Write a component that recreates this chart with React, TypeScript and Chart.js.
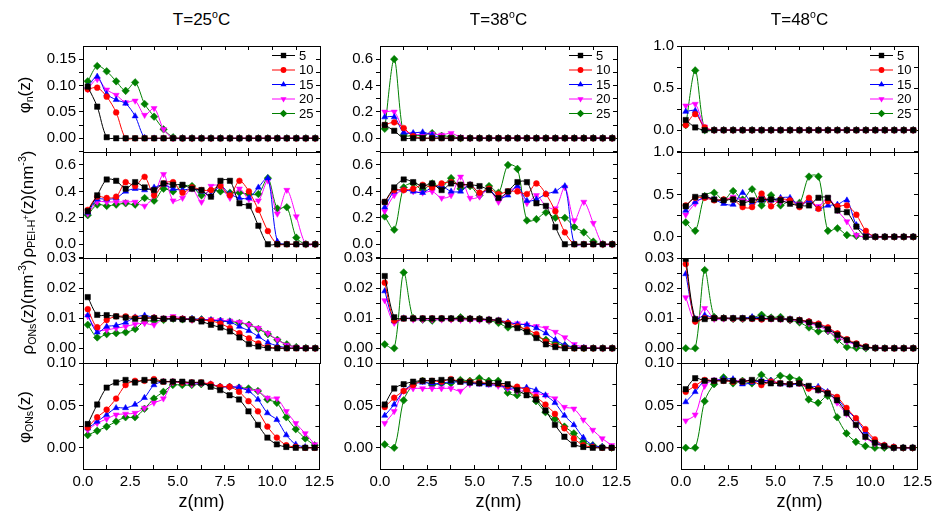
import React, { useEffect, useRef } from 'react';
import { Chart, registerables } from 'chart.js';

Chart.register(...registerables);

// ---------------- data ----------------
const Z = [0.25, 0.75, 1.25, 1.75, 2.25, 2.75, 3.25, 3.75, 4.25, 4.75, 5.25, 5.75, 6.25, 6.75, 7.25, 7.75, 8.25, 8.75, 9.25, 9.75, 10.25, 10.75, 11.25, 11.75, 12.25];
const SERIES_LABELS = ['5', '10', '15', '20', '25'];
const TITLES = ['25', '38', '48'];
const X_TICKS = [0, 2.5, 5, 7.5, 10, 12.5];

const phiN_T25 = [
  [0.098, 0.060, 0.002, 0, 0, 0, 0, 0, 0, 0, 0, 0, 0, 0, 0, 0, 0, 0, 0, 0, 0, 0, 0, 0, 0],
  [0.093, 0.096, 0.079, 0.049, 0, 0, 0, 0, 0, 0, 0, 0, 0, 0, 0, 0, 0, 0, 0, 0, 0, 0, 0, 0, 0],
  [0.098, 0.117, 0.084, 0.073, 0.066, 0.042, 0.001, 0, 0, 0, 0, 0, 0, 0, 0, 0, 0, 0, 0, 0, 0, 0, 0, 0, 0],
  [0.093, 0.112, 0.092, 0.082, 0.068, 0.071, 0.044, 0.057, 0.017, 0, 0, 0, 0, 0, 0, 0, 0, 0, 0, 0, 0, 0, 0, 0, 0],
  [0.108, 0.137, 0.127, 0.108, 0.090, 0.106, 0.065, 0.041, 0.017, 0.002, 0, 0, 0, 0, 0, 0, 0, 0, 0, 0, 0, 0, 0, 0, 0],
];
const rhoPEI_T25 = [
  [0.25, 0.37, 0.49, 0.48, 0.42, 0.47, 0.43, 0.41, 0.46, 0.45, 0.45, 0.42, 0.41, 0.36, 0.48, 0.48, 0.31, 0.29, 0.14, 0, 0, 0, 0, 0, 0],
  [0.26, 0.36, 0.35, 0.36, 0.47, 0.44, 0.51, 0.37, 0.46, 0.47, 0.39, 0.43, 0.41, 0.41, 0.44, 0.37, 0.48, 0.40, 0.26, 0.10, 0, 0, 0, 0, 0],
  [0.24, 0.34, 0.34, 0.35, 0.40, 0.42, 0.41, 0.43, 0.45, 0.42, 0.41, 0.42, 0.40, 0.37, 0.44, 0.38, 0.35, 0.35, 0.43, 0.50, 0.02, 0, 0, 0, 0],
  [0.23, 0.32, 0.32, 0.32, 0.32, 0.32, 0.29, 0.37, 0.53, 0.33, 0.35, 0.42, 0.32, 0.44, 0.44, 0.35, 0.42, 0.34, 0.33, 0.48, 0.23, 0.41, 0.21, 0, 0],
  [0.22, 0.30, 0.29, 0.30, 0.31, 0.30, 0.35, 0.33, 0.42, 0.40, 0.44, 0.44, 0.37, 0.41, 0.40, 0.39, 0.39, 0.38, 0.38, 0.50, 0.27, 0.28, 0.05, 0, 0],
];
const rhoONs_T25 = [
  [0.0170, 0.0111, 0.0110, 0.0106, 0.0102, 0.0098, 0.0100, 0.0100, 0.0098, 0.0098, 0.0096, 0.0096, 0.0089, 0.0078, 0.0069, 0.0056, 0.0036, 0.0014, 0.0006, 0.0001, 0, 0, 0, 0, 0],
  [0.0130, 0.0070, 0.0094, 0.0106, 0.0106, 0.0102, 0.0100, 0.0102, 0.0098, 0.0100, 0.0098, 0.0096, 0.0094, 0.0091, 0.0082, 0.0067, 0.0050, 0.0033, 0.0016, 0.0004, 0.0001, 0, 0, 0, 0],
  [0.0110, 0.0053, 0.0072, 0.0076, 0.0086, 0.0103, 0.0109, 0.0102, 0.0098, 0.0098, 0.0098, 0.0098, 0.0096, 0.0093, 0.0091, 0.0087, 0.0072, 0.0058, 0.0039, 0.0019, 0.0008, 0.0002, 0, 0, 0],
  [0.0106, 0.0061, 0.0061, 0.0067, 0.0072, 0.0080, 0.0083, 0.0078, 0.0100, 0.0106, 0.0100, 0.0094, 0.0094, 0.0096, 0.0093, 0.0091, 0.0087, 0.0078, 0.0067, 0.0050, 0.0028, 0.0011, 0.0004, 0.0001, 0],
  [0.0078, 0.0036, 0.0047, 0.0050, 0.0053, 0.0064, 0.0089, 0.0091, 0.0094, 0.0098, 0.0096, 0.0096, 0.0096, 0.0093, 0.0091, 0.0089, 0.0084, 0.0078, 0.0064, 0.0047, 0.0028, 0.0013, 0.0004, 0.0001, 0],
];
const phiONs_T25 = [
  [0.028, 0.051, 0.071, 0.077, 0.080, 0.077, 0.080, 0.079, 0.078, 0.078, 0.078, 0.077, 0.077, 0.072, 0.068, 0.062, 0.057, 0.043, 0.027, 0.012, 0.004, 0.001, 0, 0, 0],
  [0.024, 0.036, 0.045, 0.058, 0.074, 0.079, 0.079, 0.081, 0.078, 0.078, 0.077, 0.077, 0.077, 0.075, 0.072, 0.072, 0.066, 0.055, 0.043, 0.025, 0.012, 0.003, 0.001, 0, 0],
  [0.023, 0.031, 0.039, 0.047, 0.047, 0.051, 0.059, 0.074, 0.078, 0.078, 0.077, 0.077, 0.076, 0.075, 0.072, 0.072, 0.071, 0.067, 0.057, 0.041, 0.033, 0.015, 0.004, 0.001, 0],
  [0.021, 0.029, 0.034, 0.039, 0.040, 0.041, 0.047, 0.053, 0.058, 0.077, 0.077, 0.075, 0.076, 0.075, 0.072, 0.072, 0.071, 0.068, 0.067, 0.059, 0.058, 0.043, 0.029, 0.017, 0.004],
  [0.015, 0.020, 0.025, 0.031, 0.036, 0.036, 0.046, 0.058, 0.066, 0.074, 0.074, 0.074, 0.075, 0.074, 0.072, 0.072, 0.071, 0.070, 0.067, 0.057, 0.053, 0.036, 0.022, 0.011, 0.003],
];

const phiN_T38 = [
  [0.100, 0.056, 0, 0, 0, 0, 0, 0, 0, 0, 0, 0, 0, 0, 0, 0, 0, 0, 0, 0, 0, 0, 0, 0, 0],
  [0.100, 0.120, 0.077, 0.015, 0, 0, 0, 0, 0, 0, 0, 0, 0, 0, 0, 0, 0, 0, 0, 0, 0, 0, 0, 0, 0],
  [0.160, 0.160, 0.043, 0.040, 0.045, 0.025, 0, 0, 0, 0, 0, 0, 0, 0, 0, 0, 0, 0, 0, 0, 0, 0, 0, 0, 0],
  [0.200, 0.200, 0.064, 0.030, 0.030, 0.033, 0.025, 0.038, 0.008, 0, 0, 0, 0, 0, 0, 0, 0, 0, 0, 0, 0, 0, 0, 0, 0],
  [0.071, 0.600, 0.025, 0.020, 0.020, 0.038, 0.018, 0.013, 0, 0, 0, 0, 0, 0, 0, 0, 0, 0, 0, 0, 0, 0, 0, 0, 0],
];
const rhoPEI_T38 = [
  [0.32, 0.43, 0.49, 0.47, 0.44, 0.46, 0.41, 0.46, 0.45, 0.45, 0.44, 0.41, 0.35, 0.40, 0.47, 0.47, 0.31, 0.29, 0.13, 0, 0, 0, 0, 0, 0],
  [0.32, 0.41, 0.41, 0.42, 0.45, 0.43, 0.46, 0.47, 0.45, 0.45, 0.39, 0.42, 0.38, 0.40, 0.40, 0.38, 0.46, 0.38, 0.25, 0.09, 0, 0, 0, 0, 0],
  [0.28, 0.40, 0.41, 0.40, 0.39, 0.43, 0.44, 0.40, 0.40, 0.45, 0.39, 0.41, 0.35, 0.37, 0.44, 0.33, 0.34, 0.38, 0.40, 0.44, 0, 0, 0, 0, 0],
  [0.25, 0.37, 0.41, 0.40, 0.39, 0.40, 0.35, 0.37, 0.51, 0.35, 0.36, 0.42, 0.32, 0.40, 0.42, 0.31, 0.37, 0.29, 0.27, 0.43, 0.18, 0.32, 0.16, 0, 0],
  [0.21, 0.11, 0.43, 0.46, 0.41, 0.46, 0.43, 0.50, 0.42, 0.44, 0.37, 0.44, 0.39, 0.60, 0.57, 0.18, 0.19, 0.24, 0.20, 0.20, 0.13, 0.09, 0.02, 0, 0],
];
const rhoONs_T38 = [
  [0.0240, 0.0103, 0.0099, 0.0099, 0.0099, 0.0099, 0.0099, 0.0099, 0.0098, 0.0098, 0.0097, 0.0095, 0.0092, 0.0078, 0.0067, 0.0054, 0.0034, 0.0013, 0.0004, 0, 0, 0, 0, 0, 0],
  [0.0218, 0.0092, 0.0099, 0.0099, 0.0099, 0.0099, 0.0099, 0.0098, 0.0098, 0.0098, 0.0097, 0.0095, 0.0092, 0.0084, 0.0073, 0.0062, 0.0047, 0.0022, 0.0008, 0.0002, 0, 0, 0, 0, 0],
  [0.0190, 0.0090, 0.0100, 0.0099, 0.0099, 0.0099, 0.0099, 0.0098, 0.0098, 0.0098, 0.0097, 0.0096, 0.0093, 0.0087, 0.0080, 0.0078, 0.0067, 0.0050, 0.0028, 0.0011, 0.0004, 0.0001, 0, 0, 0],
  [0.0159, 0.0084, 0.0100, 0.0095, 0.0095, 0.0095, 0.0095, 0.0095, 0.0094, 0.0094, 0.0093, 0.0092, 0.0092, 0.0084, 0.0082, 0.0078, 0.0073, 0.0067, 0.0054, 0.0036, 0.0013, 0.0004, 0.0001, 0, 0],
  [0.0013, 0, 0.0252, 0.0100, 0.0095, 0.0092, 0.0098, 0.0098, 0.0103, 0.0098, 0.0098, 0.0092, 0.0084, 0.0069, 0.0073, 0.0058, 0.0039, 0.0028, 0.0017, 0.0009, 0.0002, 0, 0, 0, 0],
];
const phiONs_T38 = [
  [0.051, 0.070, 0.075, 0.078, 0.079, 0.079, 0.080, 0.080, 0.078, 0.077, 0.076, 0.076, 0.076, 0.075, 0.068, 0.062, 0.057, 0.044, 0.027, 0.013, 0.004, 0.001, 0, 0, 0],
  [0.048, 0.059, 0.067, 0.074, 0.079, 0.079, 0.078, 0.081, 0.078, 0.078, 0.077, 0.076, 0.075, 0.073, 0.072, 0.068, 0.060, 0.051, 0.040, 0.023, 0.011, 0.003, 0.001, 0, 0],
  [0.038, 0.051, 0.067, 0.075, 0.077, 0.076, 0.076, 0.078, 0.077, 0.076, 0.075, 0.074, 0.074, 0.071, 0.070, 0.071, 0.068, 0.062, 0.053, 0.038, 0.027, 0.012, 0.003, 0.001, 0],
  [0.029, 0.043, 0.067, 0.070, 0.070, 0.070, 0.070, 0.070, 0.067, 0.075, 0.076, 0.075, 0.073, 0.070, 0.067, 0.067, 0.064, 0.062, 0.058, 0.048, 0.046, 0.033, 0.021, 0.011, 0.003],
  [0.004, 0, 0.056, 0.074, 0.079, 0.074, 0.076, 0.076, 0.080, 0.079, 0.082, 0.079, 0.079, 0.065, 0.062, 0.068, 0.055, 0.042, 0.034, 0.025, 0.017, 0.007, 0.003, 0.001, 0],
];

const phiN_T48 = [
  [0.12, 0.032, 0, 0, 0, 0, 0, 0, 0, 0, 0, 0, 0, 0, 0, 0, 0, 0, 0, 0, 0, 0, 0, 0, 0],
  [0.06, 0.19, 0.032, 0, 0, 0, 0, 0, 0, 0, 0, 0, 0, 0, 0, 0, 0, 0, 0, 0, 0, 0, 0, 0, 0],
  [0.22, 0.23, 0.02, 0, 0, 0, 0, 0, 0, 0, 0, 0, 0, 0, 0, 0, 0, 0, 0, 0, 0, 0, 0, 0, 0],
  [0.29, 0.31, 0.04, 0, 0, 0, 0, 0, 0, 0, 0, 0, 0, 0, 0, 0, 0, 0, 0, 0, 0, 0, 0, 0, 0],
  [0.06, 0.71, 0, 0, 0, 0, 0, 0, 0, 0, 0, 0, 0, 0, 0, 0, 0, 0, 0, 0, 0, 0, 0, 0, 0],
];
const rhoPEI_T48 = [
  [0.36, 0.47, 0.48, 0.44, 0.43, 0.44, 0.40, 0.43, 0.44, 0.44, 0.43, 0.39, 0.37, 0.37, 0.46, 0.46, 0.31, 0.29, 0.12, 0, 0, 0, 0, 0, 0],
  [0.37, 0.46, 0.46, 0.43, 0.44, 0.44, 0.35, 0.35, 0.51, 0.36, 0.44, 0.43, 0.35, 0.46, 0.33, 0.42, 0.36, 0.37, 0.26, 0.07, 0, 0, 0, 0, 0],
  [0.31, 0.41, 0.46, 0.44, 0.39, 0.38, 0.52, 0.40, 0.43, 0.43, 0.46, 0.46, 0.36, 0.43, 0.33, 0.37, 0.38, 0.43, 0.14, 0.05, 0, 0, 0, 0, 0],
  [0.26, 0.39, 0.47, 0.44, 0.43, 0.47, 0.43, 0.43, 0.46, 0.43, 0.41, 0.43, 0.39, 0.41, 0.36, 0.46, 0.31, 0.18, 0.02, 0, 0, 0, 0, 0, 0],
  [0.17, 0.07, 0.48, 0.52, 0.43, 0.54, 0.44, 0.56, 0.37, 0.49, 0.37, 0.43, 0.40, 0.71, 0.71, 0.07, 0.10, 0.02, 0.01, 0, 0, 0, 0, 0, 0],
];
const rhoONs_T48 = [
  [0.0297, 0.0097, 0.0097, 0.0100, 0.0100, 0.0100, 0.0100, 0.0099, 0.0099, 0.0098, 0.0097, 0.0096, 0.0093, 0.0086, 0.0077, 0.0063, 0.0044, 0.0027, 0.0013, 0.0004, 0.0001, 0, 0, 0, 0],
  [0.0280, 0.0089, 0.0100, 0.0100, 0.0100, 0.0099, 0.0099, 0.0098, 0.0096, 0.0098, 0.0097, 0.0096, 0.0094, 0.0089, 0.0082, 0.0069, 0.0049, 0.0030, 0.0016, 0.0006, 0.0001, 0, 0, 0, 0],
  [0.0247, 0.0097, 0.0110, 0.0100, 0.0100, 0.0100, 0.0100, 0.0104, 0.0100, 0.0099, 0.0098, 0.0097, 0.0094, 0.0089, 0.0080, 0.0067, 0.0047, 0.0027, 0.0013, 0.0004, 0.0001, 0, 0, 0, 0],
  [0.0169, 0.0089, 0.0133, 0.0097, 0.0098, 0.0098, 0.0098, 0.0098, 0.0097, 0.0097, 0.0096, 0.0094, 0.0091, 0.0082, 0.0074, 0.0058, 0.0038, 0.0022, 0.0011, 0.0003, 0.0001, 0, 0, 0, 0],
  [0, 0, 0.0260, 0.0104, 0.0100, 0.0097, 0.0097, 0.0100, 0.0111, 0.0102, 0.0104, 0.0093, 0.0086, 0.0069, 0.0056, 0.0057, 0.0028, 0.0004, 0.0001, 0, 0, 0, 0, 0, 0],
];
const phiONs_T48 = [
  [0.069, 0.082, 0.079, 0.079, 0.079, 0.079, 0.078, 0.080, 0.078, 0.076, 0.076, 0.075, 0.076, 0.073, 0.068, 0.064, 0.056, 0.041, 0.027, 0.013, 0.006, 0.002, 0, 0, 0],
  [0.066, 0.073, 0.080, 0.079, 0.079, 0.078, 0.078, 0.079, 0.074, 0.078, 0.076, 0.075, 0.076, 0.070, 0.070, 0.065, 0.060, 0.047, 0.035, 0.022, 0.010, 0.003, 0.001, 0, 0],
  [0.054, 0.066, 0.079, 0.079, 0.081, 0.081, 0.075, 0.077, 0.079, 0.079, 0.075, 0.074, 0.075, 0.072, 0.072, 0.066, 0.058, 0.045, 0.034, 0.019, 0.008, 0.003, 0.001, 0, 0],
  [0.032, 0.039, 0.073, 0.080, 0.080, 0.079, 0.079, 0.079, 0.078, 0.079, 0.076, 0.075, 0.076, 0.070, 0.068, 0.065, 0.053, 0.040, 0.027, 0.012, 0.005, 0.002, 0, 0, 0],
  [0, 0, 0.055, 0.075, 0.083, 0.076, 0.079, 0.076, 0.086, 0.079, 0.085, 0.083, 0.080, 0.057, 0.053, 0.061, 0.036, 0.017, 0.007, 0.002, 0, 0, 0, 0, 0],
];

const PANEL_DATA = [
  [phiN_T25, phiN_T38, phiN_T48],
  [rhoPEI_T25, rhoPEI_T38, rhoPEI_T48],
  [rhoONs_T25, rhoONs_T38, rhoONs_T48],
  [phiONs_T25, phiONs_T38, phiONs_T48],
];

// y-axis specs [row][col]
const Y_TICKS = [
  [[0, 0.05, 0.1, 0.15], [0, 0.2, 0.4, 0.6], [0, 0.5, 1.0]],
  [[0, 0.2, 0.4, 0.6], [0, 0.2, 0.4, 0.6], [0, 0.5, 1.0]],
  [[0, 0.01, 0.02, 0.03], [0, 0.01, 0.02, 0.03], [0, 0.01, 0.02, 0.03]],
  [[0, 0.05, 0.1], [0, 0.05, 0.1], [0, 0.05, 0.1]],
];
const Y_MIN = [
  [-0.026, -0.105, -0.26],
  [-0.104, -0.104, -0.25],
  [-0.0049, -0.0049, -0.0049],
  [-0.025, -0.025, -0.025],
];
const Y_MAX = [
  [0.175, 0.7, 1.0],
  [0.698, 0.698, 1.0],
  [0.03, 0.03, 0.03],
  [0.1, 0.1, 0.1],
];
const Y_DEC = [
  [2, 1, 1],
  [1, 1, 1],
  [2, 2, 2],
  [2, 2, 2],
];

// ---------------- styles / layout ----------------
const COLORS = ['#000000', '#ff0000', '#0000ff', '#ff00ff', '#008000'];
const MARKERS = ['rect', 'circle', 'triangle', 'triangle', 'rectRot'];
const MARKER_ROT = [0, 0, 0, 180, 0];
const MARKER_R = [3.8, 2.9, 3.5, 3.5, 3.8];
const FAMILY = '"Liberation Sans", Arial, Helvetica, sans-serif';

const COL_LEFT = [83, 380, 681];
const COL_W = 237;
const ROW_TOP = [46, 152, 258, 363];
const ROW_H = [106, 106, 105, 106];
const PAD_L = 60;
const PAD_R = 22;
const PAD_T = 14;
const PAD_B_LAST = 30;
const TICK_LEN = 4;

function drawMarker(ctx: CanvasRenderingContext2D, style: string, rot: number, x: number, y: number, r: number) {
  ctx.beginPath();
  if (style === 'circle') {
    ctx.arc(x, y, r, 0, Math.PI * 2);
  } else if (style === 'rect') {
    const s = Math.SQRT1_2 * r;
    ctx.rect(x - s, y - s, 2 * s, 2 * s);
  } else if (style === 'triangle') {
    let rad = (rot * Math.PI) / 180;
    ctx.moveTo(x + Math.sin(rad) * r, y - Math.cos(rad) * r);
    rad += (2 * Math.PI) / 3;
    ctx.lineTo(x + Math.sin(rad) * r, y - Math.cos(rad) * r);
    rad += (2 * Math.PI) / 3;
    ctx.lineTo(x + Math.sin(rad) * r, y - Math.cos(rad) * r);
    ctx.closePath();
  } else {
    ctx.moveTo(x, y - r);
    ctx.lineTo(x + r, y);
    ctx.lineTo(x, y + r);
    ctx.lineTo(x - r, y);
    ctx.closePath();
  }
  ctx.fill();
}

function makeKeyPlugin(showKey: boolean) {
  return {
    id: 'seriesKey',
    afterDraw(chart: any) {
      if (!showKey) return;
      const ctx: CanvasRenderingContext2D = chart.ctx;
      const a = chart.chartArea;
      ctx.save();
      chart.data.datasets.forEach((ds: any, i: number) => {
        const y = a.top + 9.5 + i * 14.5;
        const x0 = a.left + 189;
        const x1 = a.left + 212;
        ctx.strokeStyle = ds.borderColor;
        ctx.fillStyle = ds.borderColor;
        ctx.lineWidth = 1;
        ctx.beginPath();
        ctx.moveTo(x0, y);
        ctx.lineTo(x1, y);
        ctx.stroke();
        drawMarker(ctx, MARKERS[i], MARKER_ROT[i], (x0 + x1) / 2, y, MARKER_R[i]);
        ctx.fillStyle = '#000000';
        ctx.font = `13px ${FAMILY}`;
        ctx.textAlign = 'left';
        ctx.textBaseline = 'middle';
        ctx.fillText(ds.label, a.left + 216, y + 0.5);
      });
      ctx.restore();
    },
  };
}

function withMinors(majors: number[], min: number, max: number) {
  const step = majors[1] - majors[0];
  const out: number[] = [];
  [majors[0] - step].concat(majors).forEach((v) => {
    if (v >= min - 1e-9 && v <= max + 1e-9) out.push(v);
    const m = v + step / 2;
    if (m > min && m < max) out.push(m);
  });
  return out.sort((p, q) => p - q);
}

function Panel({ row, col }: { row: number; col: number }) {
  const ref = useRef<HTMLCanvasElement>(null);
  const isBottom = row === 3;
  const padB = isBottom ? PAD_B_LAST : PAD_T;
  const w = COL_W + PAD_L + PAD_R;
  const h = ROW_H[row] + PAD_T + padB;
  const left = COL_LEFT[col] - PAD_L;
  const top = ROW_TOP[row] - PAD_T;

  useEffect(() => {
    const series = PANEL_DATA[row][col];
    const yMajor = Y_TICKS[row][col];
    const yMin = Y_MIN[row][col];
    const yMax = Y_MAX[row][col];
    const dec = Y_DEC[row][col];
    const yAll = withMinors(yMajor, yMin, yMax);
    const xAll = withMinors(X_TICKS, 0, 12.5);
    const isMajor = (list: number[], v: number) => list.some((m) => Math.abs(m - v) < 1e-9);
    const axisLine = { display: true, color: '#000000', width: 1 };
    const tickGrid = (len: number) => ({
      display: true,
      drawOnChartArea: false,
      drawTicks: true,
      tickLength: len,
      color: '#000000',
      tickColor: '#000000',
      lineWidth: 1,
      tickWidth: 1,
    });

    const chart = new Chart(ref.current as HTMLCanvasElement, {
      type: 'line',
      data: {
        datasets: series.map((vals, i) => ({
          label: SERIES_LABELS[i],
          data: Z.map((x, j) => ({ x, y: vals[j] })),
          borderColor: COLORS[i],
          backgroundColor: COLORS[i],
          pointBackgroundColor: COLORS[i],
          pointBorderColor: COLORS[i],
          pointBorderWidth: 0.5,
          pointStyle: MARKERS[i] as any,
          rotation: MARKER_ROT[i],
          pointRadius: MARKER_R[i],
          borderWidth: 1,
          tension: 0.3,
          fill: false,
          xAxisID: 'x',
          yAxisID: 'y',
        })),
      },
      options: {
        responsive: false,
        animation: false,
        devicePixelRatio: 1,
        layout: { padding: { left: 0, right: PAD_R, top: PAD_T, bottom: isBottom ? 0 : PAD_T } },
        plugins: {
          legend: { display: false },
          tooltip: { enabled: false },
        },
        scales: {
          x: {
            type: 'linear',
            position: 'bottom',
            min: 0,
            max: 12.5,
            grid: tickGrid(-TICK_LEN),
            border: axisLine,
            ticks: {
              display: isBottom,
              color: '#000',
              font: { family: FAMILY, size: 15 },
              padding: 4 + TICK_LEN,
              maxRotation: 0,
              autoSkip: false,
              callback: (v: any) => (isMajor(X_TICKS, Number(v)) ? Number(v).toFixed(1) : ''),
            },
            afterBuildTicks: (s: any) => {
              s.ticks = xAll.map((value) => ({ value }));
            },
            afterFit: (s: any) => {
              s.height = isBottom ? PAD_B_LAST : 0;
            },
          },
          xTop: {
            type: 'linear',
            position: 'top',
            min: 0,
            max: 12.5,
            grid: tickGrid(-TICK_LEN),
            border: axisLine,
            ticks: { display: false },
            afterBuildTicks: (s: any) => {
              s.ticks = xAll.map((value) => ({ value }));
            },
            afterFit: (s: any) => {
              s.height = 0;
            },
          },
          y: {
            type: 'linear',
            position: 'left',
            min: yMin,
            max: yMax,
            grid: tickGrid(TICK_LEN),
            border: axisLine,
            ticks: {
              color: '#000',
              font: { family: FAMILY, size: 15 },
              padding: 3,
              autoSkip: false,
              callback: (v: any) => (isMajor(yMajor, Number(v)) ? Number(v).toFixed(dec) : ''),
            },
            afterBuildTicks: (s: any) => {
              s.ticks = yAll.map((value) => ({ value }));
            },
            afterFit: (s: any) => {
              s.width = PAD_L;
            },
          },
          yRight: {
            type: 'linear',
            position: 'right',
            min: yMin,
            max: yMax,
            grid: tickGrid(-TICK_LEN),
            border: axisLine,
            ticks: { display: false },
            afterBuildTicks: (s: any) => {
              s.ticks = yAll.map((value) => ({ value }));
            },
            afterFit: (s: any) => {
              s.width = 0;
            },
          },
        },
      } as any,
      plugins: [makeKeyPlugin(row === 0)],
    });
    return () => chart.destroy();
  }, [row, col]);

  return (
    <canvas
      ref={ref}
      width={w}
      height={h}
      style={{ position: 'absolute', left, top, width: w, height: h }}
    />
  );
}

const subStyle: React.CSSProperties = { fontSize: '0.62em', verticalAlign: '-0.3em' };
const supStyle: React.CSSProperties = { fontSize: '0.62em', verticalAlign: '0.6em' };

function YLabel({ cy, children }: { cy: number; children: React.ReactNode }) {
  return (
    <div
      style={{
        position: 'absolute',
        left: 27,
        top: cy,
        transform: 'translate(-50%, -50%) rotate(-90deg)',
        whiteSpace: 'nowrap',
        fontSize: 17,
        lineHeight: '20px',
        color: '#000',
      }}
    >
      {children}
    </div>
  );
}

export default function App() {
  const rows = [0, 1, 2, 3];
  const cols = [0, 1, 2];
  return (
    <div
      style={{
        position: 'absolute',
        left: 0,
        top: 0,
        width: 935,
        height: 515,
        overflow: 'hidden',
        background: '#fff',
        fontFamily: FAMILY,
      }}
    >
      {rows.map((r) => cols.map((c) => <Panel key={`${r}-${c}`} row={r} col={c} />))}
      {cols.map((c) => (
        <div
          key={`t${c}`}
          style={{
            position: 'absolute',
            left: COL_LEFT[c] + COL_W / 2,
            top: 19,
            transform: 'translate(-50%, -50%)',
            fontSize: 17,
            whiteSpace: 'nowrap',
            color: '#000',
          }}
        >
          T={TITLES[c]}
          <span style={{ fontSize: '0.62em', verticalAlign: '0.65em' }}>o</span>C
        </div>
      ))}
      {cols.map((c) => (
        <div
          key={`z${c}`}
          style={{
            position: 'absolute',
            left: COL_LEFT[c] + COL_W / 2,
            top: 501,
            transform: 'translate(-50%, -50%)',
            fontSize: 18,
            whiteSpace: 'nowrap',
            color: '#000',
          }}
        >
          z(nm)
        </div>
      ))}
      <YLabel cy={95}>
        φ<span style={subStyle}>n</span>(z)
      </YLabel>
      <YLabel cy={204}>
        ρ<span style={subStyle}>PEI-H<span style={{ fontSize: '0.8em', verticalAlign: '0.7em' }}>+</span></span>(z)(nm<span style={supStyle}>-3</span>)
      </YLabel>
      <YLabel cy={307}>
        ρ<span style={subStyle}>ONs</span>(z)(nm<span style={supStyle}>-3</span>)
      </YLabel>
      <YLabel cy={417}>
        φ<span style={subStyle}>ONs</span>(z)
      </YLabel>
    </div>
  );
}
